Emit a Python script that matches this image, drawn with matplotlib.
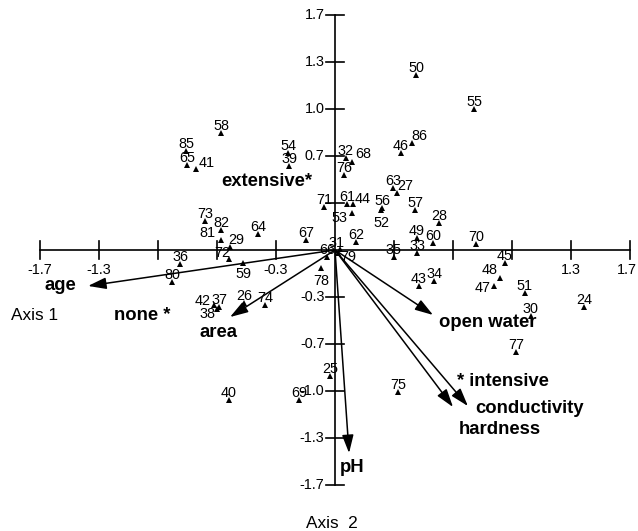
import numpy as np
import matplotlib.pyplot as plt

plt.rcParams['font.family'] = ['Liberation Sans', 'DejaVu Sans']

# site scores on ordination axes 1 and 2
sites = ['58', '85', '65', '41', '54', '39', '50', '55', '86', '46',
         '32', '68', '76', '71', '61', '44', '53', '56', '52', '63',
         '27', '57', '28', '49', '60', '33', '35', '70', '45', '48',
         '47', '51', '30', '24', '77', '43', '34', '62', '67', '66',
         '31', '79', '78', '59', '72', '36', '80', '73', '82', '81',
         '29', '64', '42', '37', '38', '26', '74', '40', '69', '25', '75']
axis1 = [-0.657, -0.859, -0.853, -0.801, -0.271, -0.265, 0.467, 0.801, 0.444, 0.380,
         0.063, 0.098, 0.052, -0.063, 0.069, 0.104, 0.098, 0.271, 0.265, 0.334,
         0.357, 0.461, 0.599, 0.473, 0.565, 0.473, 0.340, 0.813, 0.980, 0.951,
         0.916, 1.095, 1.129, 1.435, 1.043, 0.484, 0.571, 0.121, -0.167, -0.046,
         0.029, 0.017, -0.081, -0.530, -0.611, -0.893, -0.939, -0.749, -0.657, -0.657,
         -0.605, -0.444, -0.697, -0.668, -0.680, -0.524, -0.403, -0.611, -0.207, -0.029, 0.363]
axis2 = [0.846, 0.716, 0.615, 0.586, 0.702, 0.608, 1.266, 1.020, 0.774, 0.702,
         0.666, 0.637, 0.543, 0.311, 0.333, 0.333, 0.268, 0.304, 0.289, 0.449,
         0.412, 0.289, 0.195, 0.087, 0.051, -0.022, -0.051, 0.043, -0.094, -0.203,
         -0.260, -0.311, -0.477, -0.412, -0.738, -0.260, -0.224, 0.058, 0.072, -0.051,
         0.007, -0.022, -0.130, -0.094, -0.065, -0.101, -0.231, 0.210, 0.145, 0.072,
         0.022, 0.116, -0.398, -0.412, -0.427, -0.383, -0.398, -1.085, -1.085, -0.912, -1.027]

# environmental vectors
env_names = ['age', 'area', 'pH', 'hardness', 'conductivity', 'open water']
env_ax1 = [-1.423, -0.605, 0.081, 0.680, 0.766, 0.565]
env_ax2 = [-0.260, -0.485, -1.469, -1.136, -1.129, -0.470]

# nominal variables (centroids)
nominal = ['extensive*', 'none *', '* intensive']

# tick labels along the axes (blank = unlabelled tick)
tick_vals = np.linspace(-1.7, 1.7, 11)
x_tick_labels = ['-1.7', '-1.3', '', '', '-0.3', '', '', '', '', '1.3', '1.7']
y_tick_labels = ['-1.7', '-1.3', '-1.0', '-0.7', '-0.3', '', '', '0.7', '1.0', '1.3', '1.7']

# pixel scale of the frame
W, H = 638, 531
ox, oy = 335, 250
sx = 590 / 3.4
sy = 470 / 3.4

fig = plt.figure(figsize=(W / 100, H / 100), dpi=100)
ax = fig.add_axes([0, 0, 1, 1])
ax.set_xlim(-ox / sx, (W - ox) / sx)
ax.set_ylim(-(H - oy) / sy, oy / sy)
ax.axis('off')

lw = 1.2
# axes with cross ticks
ax.plot([-1.7, 1.7], [0, 0], color='black', lw=lw)
ax.plot([0, 0], [-1.7, 1.7], color='black', lw=lw)
tx = 9 / sy
ty = 9 / sx
for v, lab in zip(tick_vals, x_tick_labels):
    if abs(v) < 1e-9:
        continue
    ax.plot([v, v], [-tx, tx], color='black', lw=lw)
    if lab:
        # keep the outermost label inside the frame
        shift = -3 / sx if v > 1.6 else 0
        ax.text(v + shift, -20 / sy, lab, ha='center', va='center', fontsize=10.4)
for v, lab in zip(tick_vals, y_tick_labels):
    if abs(v) < 1e-9:
        continue
    ax.plot([-ty, ty], [v, v], color='black', lw=lw)
    if lab:
        ax.text(-10.5 / sx, v, lab, ha='right', va='center', fontsize=10.4)

# site markers and numbers
ax.plot(axis1, axis2, '^', color='black', ms=4.3, mew=0)

# label offsets in pixels (dx, dy up) from the marker; default sits above
offsets = {'41': (11, 7), '86': (7, 8), '68': (11, 9), '27': (8, 8),
           '44': (10, 6), '53': (-13, -4), '52': (0, -12), '81': (-14, 8),
           '29': (6, 8), '72': (-7, 7), '59': (0, -10), '78': (0, -12),
           '47': (-11, -1), '48': (-10, 9), '42': (-11, 5), '38': (-9, -4),
           '79': (10, -3), '31': (-3, 7)}
for name, x, y in zip(sites, axis1, axis2):
    dx, dy = offsets.get(name, (0, 8))
    ax.annotate(name, (x, y), xytext=(dx * 0.72, (dy - 5.2) * 0.72),
                textcoords='offset points', ha='center', va='baseline',
                fontsize=10.4)

# environmental arrows
for x, y in zip(env_ax1, env_ax2):
    ax.annotate('', xy=(x, y), xytext=(0, 0),
                arrowprops=dict(arrowstyle='-|>,head_length=1.1,head_width=0.35',
                                color='black', lw=1.1, shrinkA=0, shrinkB=0,
                                mutation_scale=10))

env_label_pos = [(-1.585, -0.255), (-0.674, -0.600), (0.098, -1.570),
                 (0.951, -1.302), (1.118, -1.143), (0.882, -0.528)]
for name, (x, y) in zip(env_names, env_label_pos):
    ax.text(x, y, name, ha='center', va='center', fontsize=13.3, fontweight='bold')

nominal_pos = [(-0.392, 0.492), (-1.112, -0.477), (0.968, -0.948)]
for name, (x, y) in zip(nominal, nominal_pos):
    ax.text(x, y, name, ha='center', va='center', fontsize=13.3, fontweight='bold')

ax.text((35 - ox) / sx, (oy - 316) / sy, 'Axis 1', ha='center', va='center', fontsize=12.4)
ax.text((332 - ox) / sx, (oy - 523) / sy, 'Axis  2', ha='center', va='center', fontsize=12.4)

fig.savefig('out.png', dpi=100)
